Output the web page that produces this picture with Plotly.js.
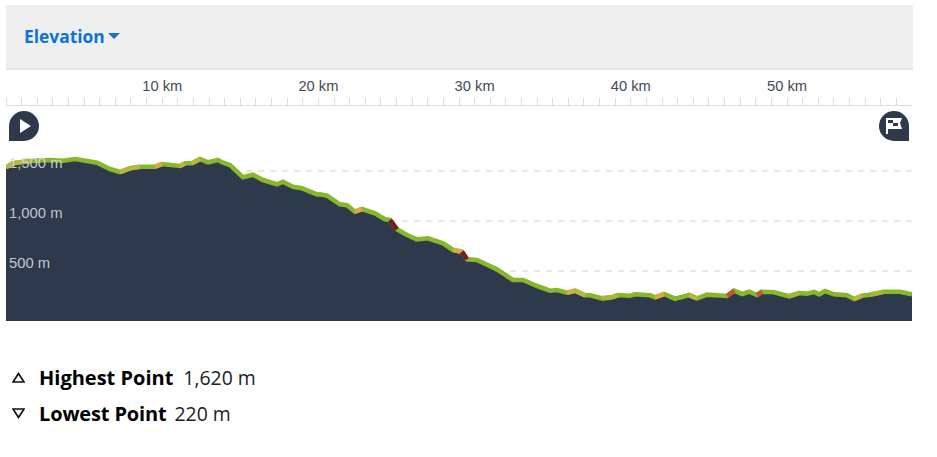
<!DOCTYPE html>
<html><head><meta charset="utf-8">
<script src="https://cdn.plot.ly/plotly-3.0.1.min.js"></script>
<style>
html,body{margin:0;padding:0;background:#fff;width:937px;height:457px;overflow:hidden;font-family:"Open Sans","Noto Sans",sans-serif}
#chart{position:absolute;left:0;top:0;width:937px;height:457px}
#head{position:absolute;left:6px;top:5px;width:907px;height:63px;background:#efefef;border-bottom:2px solid #e4e4e4}
#head span{position:absolute;left:18px;top:18px;font-size:17.4px;font-weight:700;color:#0a74d6;line-height:26px}
#head svg{position:absolute;left:102px;top:28px}
.icon{position:absolute;top:111px}
.stat{position:absolute;left:39px;font-size:19.4px;line-height:28px;color:#222;white-space:nowrap}
.stat b{font-weight:700;color:#000;margin-right:10px;font-size:20px}
.tri{position:absolute;left:12px}
</style></head><body>
<div id="head"><span>Elevation</span><svg width="12" height="6"><path d="M0 0H12L6 6Z" fill="#0a74d6"/></svg></div>
<div id="chart"></div>
<svg class="icon" style="left:9px" width="30" height="30"><path d="M0 30V15A15 15 0 1 1 15 30Z" fill="#2e3a4c"/><path d="M11 8L22 15L11 22Z" fill="#fff"/></svg>
<svg class="icon" style="left:879px" width="30" height="30"><path d="M30 30V15A15 15 0 1 0 15 30Z" fill="#2e3a4c"/><path d="M7 7H23L21 12L23 18H9V23H7Z M9 9V12H14V9Z M14 12V15H19V12Z" fill="#fff" fill-rule="evenodd"/></svg>
<svg class="tri" style="top:372px" width="13" height="11"><path d="M6.5 1.5L12 10H1Z" fill="none" stroke="#111" stroke-width="1.7"/></svg>
<div class="stat" style="top:364px"><b>Highest Point</b>1,620 m</div>
<svg class="tri" style="top:408px" width="13" height="11"><path d="M1 1H12L6.5 9.5Z" fill="none" stroke="#111" stroke-width="1.7"/></svg>
<div class="stat" style="top:400px"><b style="letter-spacing:-0.15px;margin-right:8px">Lowest Point</b>220 m</div>
<script>
const distanceKm = [
 0,0.45,1.54,2.82,3.65,4.42,5.19,5.83,6.66,7.30,
 7.94,8.58,9.54,9.99,11.14,11.46,11.91,12.42,12.93,13.57,
 13.89,14.34,14.79,15.17,15.81,16.45,17.35,17.73,18.37,18.95,
 19.91,20.10,20.55,21.38,21.83,22.34,22.79,23.30,23.62,24.26,
 24.58,25.03,25.67,26.31,27.02,27.98,28.62,29.19,29.51,30.15,
 30.79,31.43,32.46,33.10,34.00,34.83,35.27,35.92,36.43,37.07,
 37.39,38.16,38.80,39.18,39.95,40.27,41.23,41.55,42.13,42.83,
 43.73,44.24,44.88,46.16,46.61,47.12,47.57,48.08,48.40,49.17,
 50.13,50.77,51.28,51.73,52.05,52.43,53.01,53.84,54.29,54.80,
 55.31,56.21,57.23,58];
const elevationM = [
 1537,1577,1600,1610,1603,1620,1600,1583,1520,1490,
 1527,1543,1543,1570,1550,1577,1577,1620,1587,1610,
 1583,1560,1493,1437,1463,1410,1367,1393,1343,1327,
 1265,1267,1253,1167,1157,1093,1120,1087,1077,1017,
 1010,917,860,817,827,777,710,693,617,610,
 557,517,410,410,350,303,310,283,303,257,
 257,227,237,260,253,267,257,237,270,223,
 260,227,263,250,303,270,293,260,293,287,
 247,280,273,290,267,300,267,257,220,253,
 263,293,293,267];
// slope class of the stretch that starts at each point
const slopeClass = [
 1,1,0,0,0,0,0,0,0,1,
 1,0,2,0,1,0,1,0,0,0,
 0,0,0,0,0,0,0,0,0,0,
 0,0,0,0,0,2,0,0,0,0,
 4,0,0,0,0,0,2,4,0,0,
 0,0,0,0,0,0,0,2,1,0,
 0,5,5,0,0,0,0,2,0,0,
 1,0,0,3,0,0,0,3,0,0,
 5,0,0,0,0,0,0,0,1,0,
 5,0,0];
const slopeColors = ['#87b82c','#b9b83c','#d9a945','#c2552e','#7c1a20','#a3b833'];
const gridValues = [500,1000,1500];
const gridLabels = ['500 m','1,000 m','1,500 m'];
const kmTicks = Array.from({length:58},(_,i)=>i);
const kmLabels = kmTicks.map(k=>(k>0&&k%10===0)?k+' km':'');

const traces = [{x:distanceKm,y:elevationM,type:'scatter',mode:'lines',fill:'tozeroy',
  fillcolor:'#2e3a4c',line:{width:4.6,color:slopeColors[0]},hoverinfo:'skip'}];
for(let i=0;i<distanceKm.length-1;i++){
  if(slopeClass[i]===0) continue;
  traces.push({x:[distanceKm[i],distanceKm[i+1]],y:[elevationM[i],elevationM[i+1]],type:'scatter',mode:'lines',
    line:{width:4.6,color:slopeColors[slopeClass[i]]},hoverinfo:'skip'});
}
const layout = {
  width:937,height:457,margin:{l:6,r:25,t:106,b:136,pad:0},
  paper_bgcolor:'rgba(0,0,0,0)',plot_bgcolor:'rgba(0,0,0,0)',showlegend:false,
  xaxis:{range:[0,58],side:'top',tickmode:'array',tickvals:kmTicks,ticktext:kmLabels,
    ticks:'outside',ticklen:7,tickwidth:1,tickcolor:'#dcdcdc',showline:true,linecolor:'#dcdcdc',linewidth:1.5,
    showgrid:false,zeroline:false,ticklabelstandoff:1,tickangle:0,
    tickfont:{family:'Liberation Sans',size:14.7,color:'#3f4a5a'}},
  yaxis:{range:[0,2150],tickmode:'array',tickvals:gridValues,ticktext:['','',''],ticks:'',
    showgrid:true,gridcolor:'#e8e8e8',gridwidth:2,griddash:'6px,6px',zeroline:false,showline:false},
  annotations:gridValues.map((v,i)=>({x:0,xref:'paper',y:v,yref:'y',xanchor:'left',yanchor:'bottom',
    text:gridLabels[i],showarrow:false,xshift:1,yshift:-2,
    font:{family:'Liberation Sans',size:14.8,color:'rgba(215,218,222,0.9)'}}))
};
Plotly.newPlot('chart',traces,layout,{displayModeBar:false,staticPlot:true});
</script>
</body></html>
